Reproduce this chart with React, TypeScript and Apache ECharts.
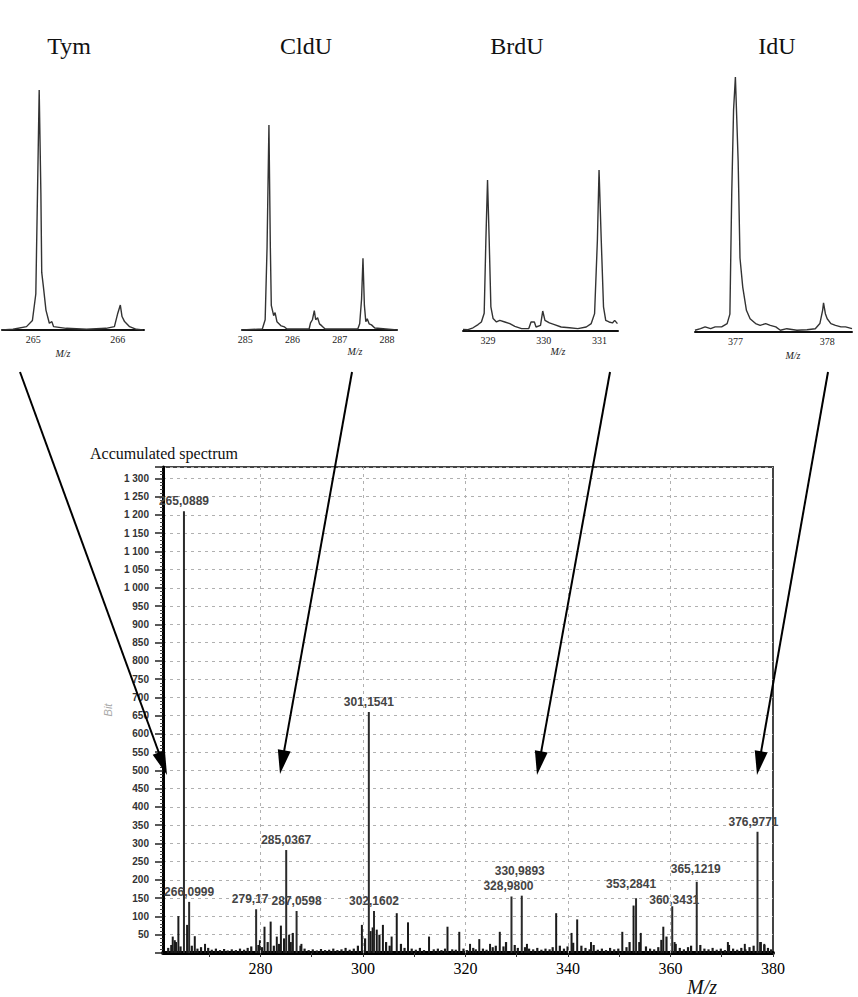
import React, { useEffect, useRef } from 'react';
import * as echarts from 'echarts';

// ---------- Inset spectra: [m/z, relative intensity %] ----------
const tymProfile: [number, number][] = [
  [264.63, 0], [264.76, 0.3], [264.92, 1.4], [264.99, 4], [265.03, 15], [265.05, 57],
  [265.07, 100], [265.09, 57], [265.10, 24], [265.12, 18], [265.15, 8.3], [265.19, 2.8],
  [265.22, 3.5], [265.24, 1.4], [265.39, 0.7], [265.63, 0.3], [265.86, 0.7], [265.96, 1.4],
  [266.0, 7], [266.03, 10.4], [266.05, 5.6], [266.08, 3.5], [266.14, 1.4], [266.22, 0.3], [266.3, 0],
];
const cldUProfile: [number, number][] = [
  [284.93, 0], [285.36, 0.5], [285.42, 5], [285.46, 40], [285.5, 100], [285.53, 40],
  [285.55, 12], [285.6, 7], [285.63, 8.5], [285.67, 4], [285.76, 2], [285.83, 1.5],
  [285.88, 0.5], [286.35, 0.5], [286.38, 3.5], [286.42, 5], [286.46, 9.5], [286.49, 5],
  [286.53, 6], [286.57, 3], [286.62, 2], [286.69, 0.5], [287.38, 0.5], [287.42, 3],
  [287.46, 15], [287.49, 35], [287.52, 12], [287.55, 4], [287.58, 5.5], [287.62, 3],
  [287.67, 2.5], [287.74, 1], [288.21, 0],
];
const brdUProfile: [number, number][] = [
  [328.55, 1], [328.64, 0.8], [328.73, 2], [328.82, 4], [328.88, 5.6], [328.93, 11],
  [328.96, 56], [328.99, 93.8], [329.02, 56], [329.05, 15], [329.09, 7.7], [329.15, 5.6],
  [329.21, 6.6], [329.3, 5.6], [329.39, 4.6], [329.48, 2.9], [329.6, 1.5], [329.73, 1.5],
  [329.77, 5.6], [329.83, 5.6], [329.86, 2.5], [329.94, 3.5], [329.98, 12.4], [330.02, 6.6],
  [330.1, 5], [330.19, 4], [330.31, 2.5], [330.46, 2], [330.61, 1.5], [330.76, 2.5],
  [330.85, 4.6], [330.91, 10.8], [330.96, 56], [330.99, 100], [331.03, 56], [331.07, 15],
  [331.11, 6.6], [331.17, 5.6], [331.23, 5], [331.27, 6.6], [331.32, 4.6],
];
const idUProfile: [number, number][] = [
  [376.56, 0.7], [376.62, 1.3], [376.67, 2], [376.73, 1.3], [376.78, 2], [376.85, 2],
  [376.91, 3.3], [376.94, 7], [376.96, 54], [376.98, 87], [377.0, 100], [377.03, 67],
  [377.05, 29], [377.08, 17.6], [377.12, 8.5], [377.16, 5.2], [377.22, 3.3], [377.27, 2.6],
  [377.33, 3.3], [377.38, 2.6], [377.44, 2], [377.49, 0.7], [377.56, 1.3], [377.67, 0.7],
  [377.78, 0.9], [377.87, 1.3], [377.92, 3.3], [377.95, 8.5], [377.96, 11.4], [377.98, 7.2],
  [378.0, 5.2], [378.04, 3.3], [378.09, 2.6], [378.15, 2], [378.2, 2], [378.27, 1.3],
];

const insetTitles = ['Tym', 'CldU', 'BrdU', 'IdU'];
const tymTicks = [265, 266];
const cldUTicks = [285, 286, 287, 288];
const brdUTicks = [329, 330, 331];
const idUTicks = [377, 378];

// ---------- Accumulated spectrum ----------
const labelledMz = [265.0889, 266.0999, 279.17, 285.0367, 287.0598, 301.1541, 302.1602,
  328.98, 330.9893, 353.2841, 360.3431, 365.1219, 376.9771];
const labelledIntensity = [1210, 140, 120, 282, 115, 660, 115, 155, 157, 150, 128, 195, 332];
const labelledText = ['265,0889', '266,0999', '279,17', '285,0367', '287,0598', '301,1541',
  '302,1602', '328,9800', '330,9893', '353,2841', '360,3431', '365,1219', '376,9771'];

const minorPeaks: [number, number][] = [
  [262.9, 45], [263.3, 35], [264.0, 101], [265.7, 77], [267.2, 46], [269.2, 25], [279.9, 35],
  [280.8, 72], [282.0, 86], [283.2, 45], [284.0, 75], [285.6, 50], [288.0, 25], [299.8, 77],
  [301.5, 60], [302.7, 64], [303.9, 77], [305.6, 45], [306.6, 109], [308.8, 84], [312.9, 45],
  [316.5, 72], [318.8, 58], [320.9, 25], [322.7, 38], [324.8, 25], [326.7, 58], [332.0, 25],
  [337.7, 109], [340.7, 55], [341.8, 92], [344.5, 30], [350.6, 58], [352.8, 130], [354.2, 55],
  [358.6, 72], [360.8, 30], [371.2, 30], [374.5, 25], [377.5, 30], [378.3, 25],
];

const baselinePeaks: [number, number][] = [
  [262.0, 14], [262.6, 22], [263.5, 30], [264.4, 18], [266.6, 20], [267.7, 12], [268.4, 16],
  [269.8, 14], [270.5, 9], [271.3, 12], [272.1, 8], [272.9, 11], [273.6, 7], [274.4, 10],
  [275.2, 8], [276.0, 12], [276.8, 9], [277.5, 14], [278.2, 18], [279.6, 22], [280.3, 16],
  [281.4, 30], [282.6, 20], [283.6, 25], [284.6, 40], [285.9, 30], [286.3, 55], [287.8, 20],
  [288.6, 12], [289.4, 8], [290.2, 10], [291.0, 7], [291.8, 11], [292.6, 8], [293.4, 9],
  [294.2, 12], [295.0, 8], [295.8, 10], [296.6, 14], [297.4, 9], [298.2, 12], [299.0, 20],
  [300.4, 40], [301.9, 70], [303.2, 50], [304.5, 30], [305.2, 20], [307.4, 25], [308.1, 14],
  [309.5, 12], [310.3, 9], [311.1, 14], [311.9, 8], [313.8, 10], [314.6, 12], [315.3, 8],
  [316.0, 12], [317.4, 10], [318.1, 9], [319.6, 12], [320.3, 8], [321.5, 14], [322.0, 10],
  [323.4, 12], [324.1, 9], [325.3, 16], [325.9, 20], [327.4, 18], [327.9, 30], [329.6, 22],
  [330.2, 14], [331.6, 16], [332.4, 12], [333.2, 10], [334.0, 14], [334.8, 9], [335.6, 12],
  [336.4, 10], [337.0, 16], [338.4, 20], [339.2, 12], [339.9, 18], [341.0, 28], [342.6, 20],
  [343.4, 14], [344.2, 10], [345.0, 22], [345.8, 9], [346.6, 12], [347.4, 8], [348.2, 14],
  [349.0, 10], [349.8, 12], [351.4, 16], [352.0, 30], [353.9, 30], [355.2, 18], [356.0, 12],
  [356.8, 10], [357.6, 16], [358.2, 36], [359.2, 45], [361.0, 25], [361.8, 14], [362.6, 10],
  [363.4, 16], [364.0, 20], [365.8, 22], [366.6, 12], [367.4, 10], [368.2, 14], [369.0, 9],
  [369.8, 12], [370.6, 8], [371.4, 22], [372.2, 12], [373.0, 9], [373.8, 14], [374.6, 10],
  [375.4, 16], [376.2, 20], [377.6, 30], [378.3, 22], [379.0, 14], [379.6, 10],
];

const xTickValues = [270, 280, 290, 300, 310, 320, 330, 340, 350, 360, 370, 380];
const xLabelValues = [280, 300, 320, 340, 360, 380];
const xGridValues = [280, 300, 320, 340, 360];
const yLabelMax = 1300;

const SERIF = '"Liberation Serif", "DejaVu Serif", serif';
const SANS = '"Liberation Sans", Arial, sans-serif';

const labelOffsets: Record<string, [number, number]> = {
  '279,17': [-6, 0],
  '328,9800': [-3, 0],
  '330,9893': [-2, -15],
  '353,2841': [-5, -4],
  '360,3431': [2, 4],
  '365,1219': [-1, -3],
  '376,9771': [-4, 0],
};

function arrow(x1: number, y1: number, x2: number, y2: number) {
  const dx = x2 - x1, dy = y2 - y1;
  const len = Math.hypot(dx, dy);
  const ux = dx / len, uy = dy / len;
  const hl = 24, hw = 6.5;
  const bx = x2 - ux * hl, by = y2 - uy * hl;
  return [
    { type: 'line', z: 100, shape: { x1, y1, x2: bx + ux * 3, y2: by + uy * 3 }, style: { stroke: '#000', lineWidth: 2 } },
    { type: 'polygon', z: 100, shape: { points: [[x2, y2], [bx - uy * hw, by + ux * hw], [bx + uy * hw, by - ux * hw]] }, style: { fill: '#000' } },
  ];
}

function insetXAxis(gridIndex: number, min: number, max: number, ticks: number[]) {
  return {
    type: 'value', gridIndex, min, max,
    axisLine: { show: true, lineStyle: { color: '#111', width: 2 } },
    axisTick: { show: false },
    splitLine: { show: false },
    axisLabel: { customValues: ticks, fontFamily: SERIF, fontSize: 10, color: '#222', margin: 4 },
  };
}
function insetYAxis(gridIndex: number) {
  return { type: 'value', gridIndex, min: 0, max: 100, show: false, splitLine: { show: false } };
}
function insetSeries(idx: number, data: [number, number][]) {
  return {
    type: 'line', xAxisIndex: idx, yAxisIndex: idx, data, showSymbol: false, silent: true,
    lineStyle: { color: '#333', width: 1.4 },
  };
}

export default function App() {
  const ref = useRef<HTMLDivElement>(null);
  useEffect(() => {
    if (!ref.current) return;
    const chart = echarts.init(ref.current, undefined, { renderer: 'svg' });

    const titlePos = [[69, 46], [306, 46], [517, 46], [777, 46]];
    const mzPos = [[63, 353], [355, 351], [558, 351], [793, 355]];

    const graphic: any[] = [];
    insetTitles.forEach((t, i) => {
      graphic.push({
        type: 'text', x: titlePos[i][0], y: titlePos[i][1],
        style: { text: t, fontFamily: SERIF, fontSize: 24, fill: '#111', align: 'center', verticalAlign: 'middle' },
      });
      graphic.push({
        type: 'text', x: mzPos[i][0], y: mzPos[i][1],
        style: { text: 'M/z', fontFamily: SERIF, fontStyle: 'italic', fontSize: 10, fill: '#222', align: 'center', verticalAlign: 'middle' },
      });
    });
    graphic.push({
      type: 'text', x: 90, y: 453,
      style: { text: 'Accumulated spectrum', fontFamily: SERIF, fontSize: 16, fill: '#111', align: 'left', verticalAlign: 'middle' },
    });
    graphic.push({
      type: 'text', x: 702, y: 987,
      style: { text: 'M/z', fontFamily: SERIF, fontStyle: 'italic', fontSize: 20, fill: '#111', align: 'center', verticalAlign: 'middle' },
    });
    graphic.push(...arrow(20, 372, 167, 775));
    graphic.push(...arrow(352, 372, 280, 774));
    graphic.push(...arrow(610, 372, 537, 775));
    graphic.push(...arrow(828, 372, 757, 775));

    const option: any = {
      animation: false,
      backgroundColor: '#fff',
      grid: [
        { left: 163, top: 467, width: 610, height: 486, show: true, borderColor: '#444', borderWidth: 2, backgroundColor: 'transparent' },
        { left: 2, top: 90, width: 142, height: 240 },
        { left: 242, top: 125, width: 155, height: 205 },
        { left: 463, top: 170, width: 155, height: 161 },
        { left: 695, top: 77, width: 157, height: 255 },
      ],
      xAxis: [
        {
          type: 'value', gridIndex: 0, min: 261, max: 380,
          axisLine: { show: true, lineStyle: { color: '#000', width: 4 } },
          axisTick: { show: true, customValues: xTickValues, length: 4, lineStyle: { color: '#333' } },
          axisLabel: { customValues: xLabelValues, fontFamily: SERIF, fontSize: 16, color: '#000', margin: 7 },
          splitLine: { show: false },
        },
        insetXAxis(1, 264.63, 266.31, tymTicks),
        insetXAxis(2, 284.93, 288.21, cldUTicks),
        insetXAxis(3, 328.55, 331.33, brdUTicks),
        insetXAxis(4, 376.56, 378.27, idUTicks),
      ],
      yAxis: [
        {
          type: 'value', gridIndex: 0, min: 0, max: 1331, interval: 50,
          name: 'Bit', nameLocation: 'middle', nameGap: 42, nameRotate: 90,
          nameTextStyle: { color: '#aaa', fontFamily: SANS, fontSize: 11, fontStyle: 'italic' },
          axisLine: { show: true, lineStyle: { color: '#000', width: 3 } },
          axisTick: { show: true, length: 8, lineStyle: { color: '#222', width: 1.5 } },
          minorTick: { show: true, splitNumber: 5, length: 3, lineStyle: { color: '#444' } },
          axisLabel: {
            fontFamily: SANS, fontSize: 10, fontWeight: 'bold', color: '#333', margin: 14,
            formatter: (v: number) => {
              if (v <= 0 || v > yLabelMax) return '';
              if (v >= 1000) return `${Math.floor(v / 1000)} ${String(v % 1000).padStart(3, '0')}`;
              return String(v);
            },
          },
          splitLine: { show: true, lineStyle: { color: '#b0b0b0', type: [3, 4], width: 1 } },
        },
        insetYAxis(1), insetYAxis(2), insetYAxis(3), insetYAxis(4),
      ],
      series: [
        {
          type: 'bar', xAxisIndex: 0, yAxisIndex: 0, data: baselinePeaks, barWidth: 2.2, barGap: '-100%',
          itemStyle: { color: '#1a1a1a' }, silent: true,
          markLine: {
            silent: true, symbol: 'none', label: { show: false },
            lineStyle: { color: '#b0b0b0', type: [3, 4], width: 1 },
            data: xGridValues.map((x) => ({ xAxis: x })),
          },
        },
        {
          type: 'bar', xAxisIndex: 0, yAxisIndex: 0, data: minorPeaks, barWidth: 2, barGap: '-100%',
          itemStyle: { color: '#1a1a1a' }, silent: true,
        },
        {
          type: 'bar', xAxisIndex: 0, yAxisIndex: 0, barWidth: 2, barGap: '-100%',
          itemStyle: { color: '#2a2a2a' }, silent: true,
          label: {
            show: true, position: 'top', distance: 4, fontFamily: SANS, fontSize: 12, fontWeight: 'bold', color: '#444',
            formatter: (p: any) => p.name,
          },
          data: labelledMz.map((m, i) => {
            const item: any = { value: [m, labelledIntensity[i]], name: labelledText[i] };
            const off = labelOffsets[labelledText[i]];
            if (off) item.label = { offset: off };
            return item;
          }),
        },
        insetSeries(1, tymProfile),
        insetSeries(2, cldUProfile),
        insetSeries(3, brdUProfile),
        insetSeries(4, idUProfile),
      ],
      graphic,
    };
    chart.setOption(option);
    return () => chart.dispose();
  }, []);
  return <div ref={ref} style={{ position: 'absolute', left: 0, top: 0, width: 858, height: 997, background: '#fff' }} />;
}
